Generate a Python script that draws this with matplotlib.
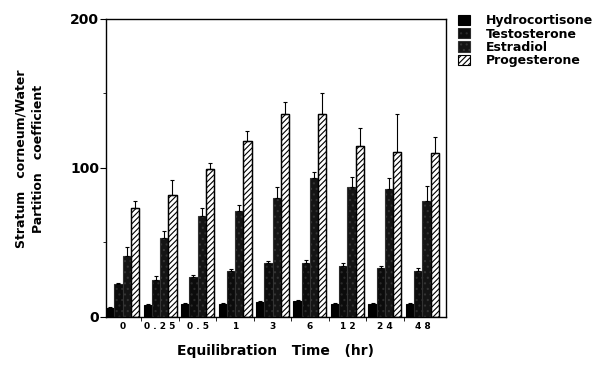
import numpy as np
import matplotlib.pyplot as plt
from matplotlib.ticker import FixedLocator

plt.rcParams['font.family'] = ['DejaVu Sans']
plt.rcParams['font.weight'] = 'bold'
plt.rcParams['hatch.linewidth'] = 0.8

times = ['0', '0 . 2 5', '0 . 5', '1', '3', '6', '1 2', '2 4', '4 8']
drugs = ['Hydrocortisone', 'Testosterone', 'Estradiol', 'Progesterone']

# partition coefficients (mean) and upper error (SD)
hydro = [6, 8, 9, 9, 10, 11, 9, 9, 9]
hydro_err = [0.5, 0.5, 0.5, 0.5, 0.8, 0.5, 0.5, 0.5, 0.5]
testo = [22, 25, 27, 31, 36, 36, 34, 33, 31]
testo_err = [0.8, 2.5, 1, 1.5, 1.5, 2, 2, 1, 2]
estra = [41, 53, 68, 71, 80, 93, 87, 86, 78]
estra_err = [6, 5, 5, 4, 7, 4, 7, 7, 10]
proges = [73, 82, 99, 118, 136, 136, 115, 111, 110]
proges_err = [5, 10, 4, 7, 8, 14, 12, 25, 11]

fig = plt.figure(figsize=(6.03, 3.72), dpi=100)
ax = fig.add_axes([0.176, 0.148, 0.563, 0.801])

x = np.arange(len(times))
w = 0.22
styles = [
    dict(color='black', edgecolor='black'),
    dict(color='#0c0c0c', edgecolor='#2a2a2a', hatch='...'),
    dict(color='#141414', edgecolor='#333333', hatch='...'),
    dict(color='white', edgecolor='black', hatch='//////'),
]
series = [(hydro, hydro_err), (testo, testo_err), (estra, estra_err), (proges, proges_err)]
for k, (vals, errs) in enumerate(series):
    pos = x + (k - 1.5) * w
    st = styles[k]
    ax.bar(pos, vals, w, facecolor=st['color'], edgecolor=st['edgecolor'],
           hatch=st.get('hatch'), linewidth=0.8, label=drugs[k])
    if k == 3:
        ax.bar(pos, vals, w, facecolor='none', edgecolor='black', linewidth=1.0)
    ax.errorbar(pos, vals, yerr=[np.zeros(len(errs)), errs], fmt='none',
                ecolor='black', elinewidth=0.8, capsize=1.5, capthick=0.8)

ax.set_xlim(-0.44, 8.62)
ax.set_ylim(0, 200)
ax.set_xticks(x)
ax.set_xticklabels(times, fontsize=6.5, fontweight='bold')
ax.xaxis.set_minor_locator(FixedLocator(x[:-1] + 0.5))
ax.tick_params(axis='x', which='major', length=0, pad=4)
ax.tick_params(axis='x', which='minor', length=3, direction='out')
ax.set_yticks([0, 100, 200])
ax.set_yticklabels(['0', '100', '200'], fontsize=10, fontweight='bold')
ax.yaxis.set_minor_locator(FixedLocator([50, 150]))
ax.tick_params(axis='y', which='major', length=4, direction='out', pad=1)
ax.tick_params(axis='y', which='minor', length=2, direction='out')
for s in ax.spines.values():
    s.set_linewidth(1.0)

ax.set_xlabel('Equilibration   Time   (hr)', fontsize=10, fontweight='bold', labelpad=9)
ax.set_ylabel('Stratum   corneum/Water\nPartition   coefficient', fontsize=9,
              fontweight='bold', linespacing=1.45)
ax.yaxis.set_label_coords(-0.18, 0.53)

leg = fig.legend(loc='upper left', bbox_to_anchor=(0.752, 0.975), frameon=False,
                 fontsize=9, handlelength=0.9, handleheight=0.9, handletextpad=1.3,
                 labelspacing=0.02, borderaxespad=0)

fig.savefig('out.png', dpi=100)
